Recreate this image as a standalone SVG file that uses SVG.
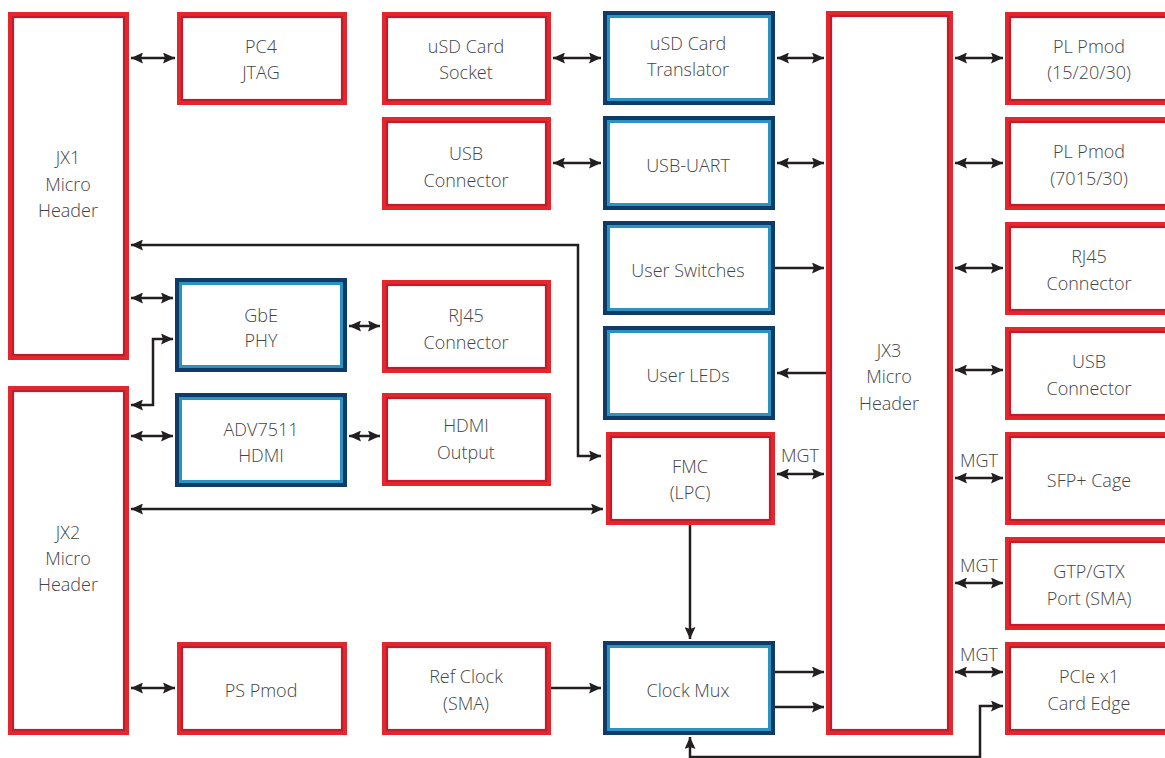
<svg xmlns="http://www.w3.org/2000/svg" width="1165" height="758" viewBox="0 0 1165 758">
<defs>
<marker id="ah" viewBox="0 0 12 11" refX="12" refY="5.5" markerWidth="12" markerHeight="11" markerUnits="userSpaceOnUse" orient="auto-start-reverse">
<path d="M0,0 L12,5.5 L0,11 L2,5.5 z" fill="#231f20"/>
</marker>
<style>
.ro{fill:#fff;stroke:#e5262c;stroke-width:6}
.ri{fill:none;stroke:#bd1e2d;stroke-width:2.2}
.bo{fill:#fff;stroke:#2b93c1;stroke-width:7}
.bi{fill:none;stroke:#0e3b68;stroke-width:4}
text{font-family:"Open Sans","DejaVu Sans",sans-serif;font-size:18px;font-weight:300;fill:#444;text-anchor:middle}
.c{fill:none;stroke:#231f20;stroke-width:2.5}
.b{marker-start:url(#ah);marker-end:url(#ah)}
.e{marker-end:url(#ah)}
</style>
</defs>
<rect width="1165" height="758" fill="#fff"/>

<g id="connectors">
<line class="c b" x1="131" y1="58" x2="175" y2="58"/>
<line class="c b" x1="553" y1="58" x2="601" y2="58"/>
<line class="c b" x1="777" y1="58" x2="824" y2="58"/>
<line class="c b" x1="955" y1="58" x2="1003" y2="58"/>
<line class="c b" x1="553" y1="163" x2="601" y2="163"/>
<line class="c b" x1="777" y1="163" x2="824" y2="163"/>
<line class="c b" x1="955" y1="163" x2="1003" y2="163"/>
<line class="c e" x1="775" y1="268" x2="824" y2="268"/>
<line class="c b" x1="955" y1="268" x2="1003" y2="268"/>
<line class="c e" x1="826" y1="373" x2="777" y2="373"/>
<line class="c b" x1="955" y1="370" x2="1003" y2="370"/>
<polyline class="c b" points="131,245 578,245 578,456 601,456"/>
<line class="c b" x1="131" y1="298" x2="173" y2="298"/>
<line class="c b" x1="349" y1="326" x2="380" y2="326"/>
<polyline class="c b" points="173,339 153,339 153,405 131,405"/>
<line class="c b" x1="131" y1="436" x2="173" y2="436"/>
<line class="c b" x1="349" y1="436" x2="380" y2="436"/>
<line class="c b" x1="131" y1="509" x2="603" y2="509"/>
<line class="c b" x1="777" y1="474" x2="824" y2="474"/>
<line class="c e" x1="690" y1="525" x2="690" y2="639"/>
<line class="c b" x1="955" y1="478" x2="1003" y2="478"/>
<line class="c b" x1="955" y1="583" x2="1003" y2="583"/>
<line class="c b" x1="955" y1="672" x2="1003" y2="672"/>
<line class="c b" x1="131" y1="688" x2="175" y2="688"/>
<line class="c e" x1="551" y1="688" x2="601" y2="688"/>
<line class="c e" x1="775" y1="672" x2="824" y2="672"/>
<line class="c e" x1="775" y1="707" x2="824" y2="707"/>
<polyline class="c b" points="690,737 690,757 980,757 980,706 1003,706"/>
<text x="800" y="462">MGT</text>
<text x="979" y="467">MGT</text>
<text x="979" y="572">MGT</text>
<text x="979" y="661">MGT</text>
</g>

<g id="jx1"><rect class="ro" x="11" y="15" width="115" height="342"/><rect class="ri" x="13" y="17" width="111" height="338"/><text x="68" y="164">JX1</text><text x="68" y="191">Micro</text><text x="68" y="217">Header</text></g>
<g id="jx2"><rect class="ro" x="11" y="389" width="115" height="343"/><rect class="ri" x="13" y="391" width="111" height="339"/><text x="68" y="539">JX2</text><text x="68" y="565">Micro</text><text x="68" y="591">Header</text></g>
<g id="jx3"><rect class="ro" x="829" y="14" width="121" height="718"/><rect class="ri" x="831" y="16" width="117" height="714"/><text x="889" y="357">JX3</text><text x="889" y="383">Micro</text><text x="889" y="410">Header</text></g>

<g id="pc4"><rect class="ro" x="180" y="15" width="164" height="87"/><rect class="ri" x="182" y="17" width="160" height="83"/><text x="261" y="53">PC4</text><text x="261" y="79">JTAG</text></g>
<g id="usdsock"><rect class="ro" x="385" y="15" width="163" height="87"/><rect class="ri" x="387" y="17" width="159" height="83"/><text x="466" y="53">uSD Card</text><text x="466" y="79">Socket</text></g>
<g id="usdtrans"><rect class="bo" x="606.5" y="14.5" width="165" height="87"/><rect class="bi" x="605" y="13" width="168" height="90"/><text x="688" y="50">uSD Card</text><text x="688" y="76">Translator</text></g>
<g id="plpmod1"><rect class="ro" x="1008" y="15" width="162" height="87"/><rect class="ri" x="1010" y="17" width="158" height="83"/><text x="1089" y="53">PL Pmod</text><text x="1089" y="79">(15/20/30)</text></g>

<g id="usbconn"><rect class="ro" x="385" y="120" width="163" height="87"/><rect class="ri" x="387" y="122" width="159" height="83"/><text x="466" y="160">USB</text><text x="466" y="187">Connector</text></g>
<g id="usbuart"><rect class="bo" x="606.5" y="119.5" width="165" height="87"/><rect class="bi" x="605" y="118" width="168" height="90"/><text x="688" y="172">USB-UART</text></g>
<g id="plpmod2"><rect class="ro" x="1008" y="120" width="162" height="87"/><rect class="ri" x="1010" y="122" width="158" height="83"/><text x="1089" y="158">PL Pmod</text><text x="1089" y="185">(7015/30)</text></g>

<g id="switches"><rect class="bo" x="606.5" y="224.5" width="165" height="87"/><rect class="bi" x="605" y="223" width="168" height="90"/><text x="688" y="277">User Switches</text></g>
<g id="rj45r"><rect class="ro" x="1008" y="225" width="162" height="87"/><rect class="ri" x="1010" y="227" width="158" height="83"/><text x="1089" y="263">RJ45</text><text x="1089" y="290">Connector</text></g>

<g id="gbe"><rect class="bo" x="178.5" y="281.5" width="165" height="87"/><rect class="bi" x="177" y="280" width="168" height="90"/><text x="261" y="322">GbE</text><text x="261" y="347">PHY</text></g>
<g id="rj45m"><rect class="ro" x="385" y="283" width="163" height="87"/><rect class="ri" x="387" y="285" width="159" height="83"/><text x="466" y="322">RJ45</text><text x="466" y="349">Connector</text></g>
<g id="leds"><rect class="bo" x="606.5" y="329.5" width="165" height="87"/><rect class="bi" x="605" y="328" width="168" height="90"/><text x="688" y="382">User LEDs</text></g>
<g id="usbr"><rect class="ro" x="1008" y="330" width="162" height="87"/><rect class="ri" x="1010" y="332" width="158" height="83"/><text x="1089" y="368">USB</text><text x="1089" y="395">Connector</text></g>

<g id="adv"><rect class="bo" x="178.5" y="396.5" width="165" height="87"/><rect class="bi" x="177" y="395" width="168" height="90"/><text x="261" y="436">ADV7511</text><text x="261" y="462">HDMI</text></g>
<g id="hdmiout"><rect class="ro" x="385" y="396" width="163" height="87"/><rect class="ri" x="387" y="398" width="159" height="83"/><text x="466" y="432">HDMI</text><text x="466" y="459">Output</text></g>
<g id="fmc"><rect class="ro" x="609" y="435" width="163" height="87"/><rect class="ri" x="611" y="437" width="159" height="83"/><text x="690" y="473">FMC</text><text x="690" y="499">(LPC)</text></g>
<g id="sfp"><rect class="ro" x="1008" y="435" width="162" height="87"/><rect class="ri" x="1010" y="437" width="158" height="83"/><text x="1089" y="487">SFP+ Cage</text></g>
<g id="gtp"><rect class="ro" x="1008" y="540" width="162" height="87"/><rect class="ri" x="1010" y="542" width="158" height="83"/><text x="1089" y="578">GTP/GTX</text><text x="1089" y="605">Port (SMA)</text></g>

<g id="pspmod"><rect class="ro" x="180" y="645" width="164" height="87"/><rect class="ri" x="182" y="647" width="160" height="83"/><text x="261" y="697">PS Pmod</text></g>
<g id="refclk"><rect class="ro" x="385" y="645" width="163" height="87"/><rect class="ri" x="387" y="647" width="159" height="83"/><text x="466" y="683">Ref Clock</text><text x="466" y="710">(SMA)</text></g>
<g id="clkmux"><rect class="bo" x="606.5" y="644.5" width="165" height="87"/><rect class="bi" x="605" y="643" width="168" height="90"/><text x="688" y="697">Clock Mux</text></g>
<g id="pcie"><rect class="ro" x="1008" y="645" width="162" height="87"/><rect class="ri" x="1010" y="647" width="158" height="83"/><text x="1089" y="683">PCIe x1</text><text x="1089" y="710">Card Edge</text></g>
</svg>
